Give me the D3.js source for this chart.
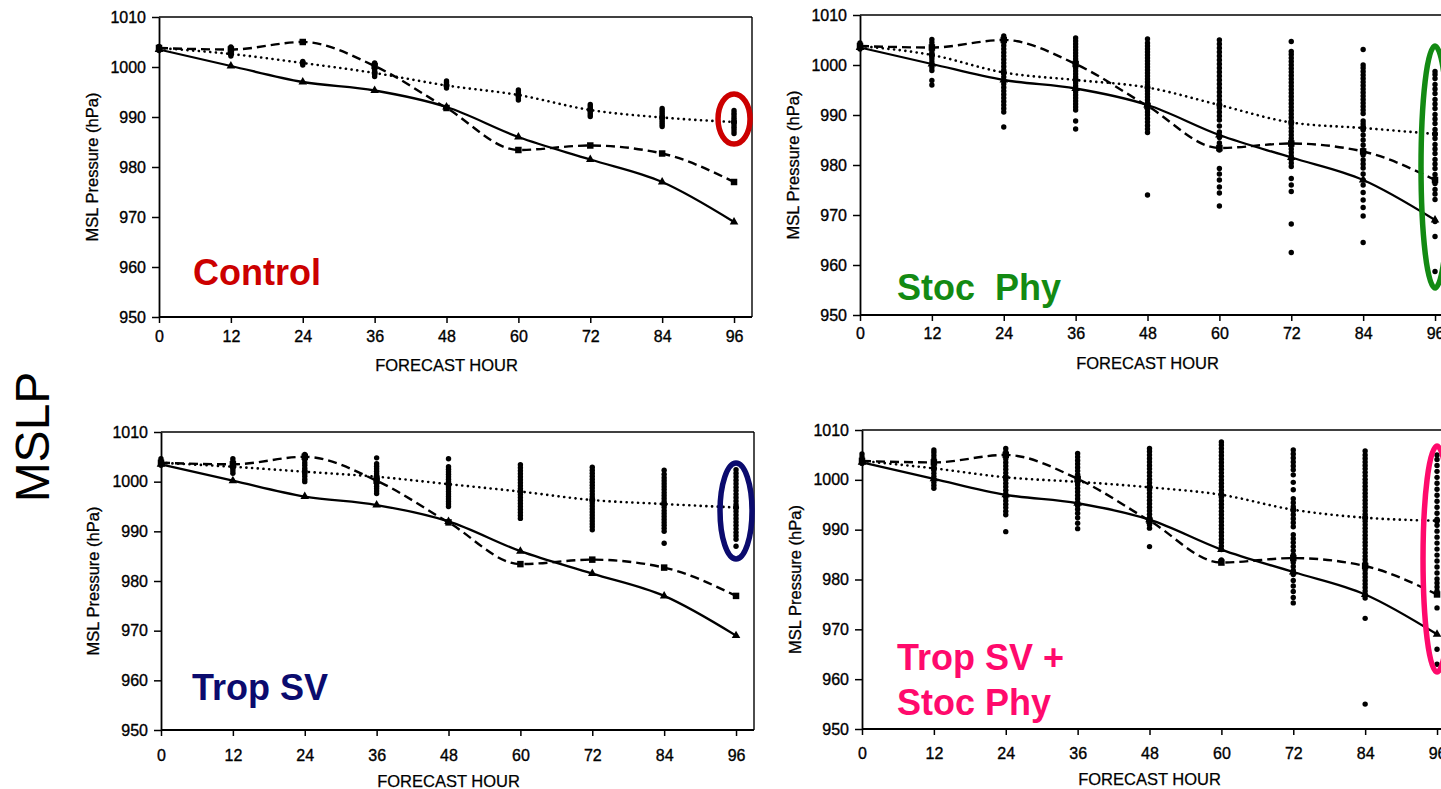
<!DOCTYPE html>
<html><head><meta charset="utf-8">
<script src="https://cdn.jsdelivr.net/npm/d3@7"></script>
<style>
body{margin:0;background:#fff;overflow:hidden}
text{font-family:"Liberation Sans",Arial,Helvetica,sans-serif}
</style>
</head><body>
<svg id="chart" width="1441" height="789"></svg>
<script>
// ---------------- data ----------------
const hours = [0, 12, 24, 36, 48, 60, 72, 84, 96];
const xTickLabels = [0, 12, 24, 36, 48, 60, 72, 84, 96];
const yTickLabels = [950, 960, 970, 980, 990, 1000, 1010];

// solid line with triangles
const observedTrack = [1003.5, 1000.2, 997.0, 995.3, 992.0, 986.0, 981.5, 977.0, 969.0];
// dashed line with squares
const controlForecast = [1003.8, 1003.5, 1005.0, 1000.2, 991.8, 983.4, 984.3, 982.7, 977.0];
// dotted ensemble means
const meanControl  = [1003.8, 1002.6, 1000.8, 998.8, 996.3, 994.4, 991.4, 989.9, 989.0];
const meanStoc     = [1003.8, 1002.0, 998.5, 997.0, 995.5, 992.0, 988.5, 987.4, 986.2];
const meanTrop     = [1003.8, 1003.0, 1002.0, 1001.0, 999.5, 998.0, 996.3, 995.5, 994.8];
const meanTropStoc = [1003.8, 1002.3, 1000.5, 999.6, 998.5, 997.0, 994.0, 992.4, 991.8];

// ensemble members, one list per forecast hour
const membersControl = [
  [1003.3, 1003.7, 1004.1],
  [1002.2, 1002.6, 1003.0, 1003.3, 1003.7, 1004.0],
  [1000.4, 1000.8, 1001.1],
  [998.1, 998.5, 998.9, 999.3, 999.7, 1000.1, 1000.5, 1000.8],
  [995.8, 996.2, 996.5, 996.9, 997.2],
  [993.4, 993.8, 994.2, 994.6, 995.0, 995.4],
  [990.1, 990.5, 990.9, 991.3, 991.7, 992.1, 992.5],
  [988.1, 988.5, 988.9, 989.3, 989.7, 990.1, 990.5, 990.9, 991.3, 991.7],
  [986.7, 987.2, 987.7, 988.1, 988.6, 989.0, 989.5, 989.9, 990.4, 990.8, 991.3]
];
const membersStoc = [
  [1003.2, 1003.6, 1004.0, 1004.4],
  [996.0, 996.9, 998.9, 999.5, 1000.1, 1000.6, 1001.2, 1001.7, 1002.3, 1002.8, 1003.4, 1003.9, 1004.5, 1005.1],
  [987.6, 990.6, 991.3, 992.0, 992.7, 993.4, 994.1, 994.8, 995.5, 996.2, 996.9, 997.6, 998.3, 999.0, 999.7, 1000.4, 1001.1, 1001.8, 1002.5, 1003.2, 1003.9, 1004.6, 1005.3, 1005.8],
  [987.2, 988.8, 991.0, 991.6, 992.2, 992.8, 993.4, 994.0, 994.6, 995.2, 995.8, 996.4, 997.0, 997.6, 998.2, 998.8, 999.4, 1000.0, 1000.6, 1001.2, 1001.8, 1002.4, 1003.0, 1003.6, 1004.2, 1004.8, 1005.4],
  [974.0, 986.5, 987.2, 987.9, 988.6, 989.3, 990.0, 990.6, 991.2, 991.8, 992.4, 993.0, 993.6, 994.2, 994.8, 995.4, 996.0, 996.6, 997.2, 997.8, 998.4, 999.0, 999.6, 1000.2, 1000.8, 1001.4, 1002.0, 1002.6, 1003.2, 1003.8, 1004.4, 1005.2],
  [971.8, 974.4, 975.6, 977.0, 978.2, 979.3, 983.0, 983.6, 984.4, 985.5, 986.6, 987.8, 989.0, 989.8, 990.6, 991.4, 992.2, 993.0, 993.8, 994.6, 995.4, 996.2, 997.0, 997.8, 998.6, 999.4, 1000.2, 1001.0, 1001.8, 1002.6, 1003.4, 1004.2, 1005.0],
  [962.5, 968.2, 974.7, 976.0, 977.3, 979.7, 980.4, 981.1, 981.8, 982.5, 983.2, 983.9, 984.6, 985.3, 986.0, 986.7, 987.4, 988.1, 988.8, 989.5, 990.2, 990.9, 991.6, 992.3, 993.0, 993.7, 994.4, 995.1, 995.8, 996.5, 997.2, 997.9, 998.6, 999.3, 1000.0, 1000.7, 1001.4, 1002.1, 1002.7, 1004.7],
  [964.5, 969.8, 971.5, 973.0, 974.5, 976.0, 977.0, 978.2, 979.4, 980.2, 981.0, 982.0, 983.0, 984.0, 985.0, 986.0, 987.0, 987.6, 988.2, 988.8, 990.3, 991.0, 991.7, 992.4, 993.1, 993.8, 994.5, 995.2, 995.9, 996.6, 997.3, 998.0, 998.7, 999.4, 1000.0, 1003.1],
  [958.7, 965.7, 968.7, 973.1, 974.2, 975.1, 976.3, 977.2, 978.1, 979.3, 980.2, 981.1, 982.3, 983.2, 984.1, 985.3, 986.2, 987.1, 988.3, 989.2, 990.1, 991.3, 992.2, 993.1, 994.3, 995.2, 996.1, 997.3, 998.1, 998.7]
];
const membersTrop = [
  [1003.3, 1003.7, 1004.1, 1004.6],
  [1001.7, 1002.2, 1002.7, 1003.2, 1003.6, 1004.1, 1004.6],
  [1000.0, 1000.5, 1001.1, 1001.6, 1002.2, 1002.7, 1003.3, 1003.8, 1004.4, 1004.9, 1005.5],
  [997.6, 998.1, 998.6, 999.1, 999.6, 1000.1, 1000.6, 1001.1, 1001.6, 1002.1, 1002.6, 1003.1, 1003.6, 1004.8],
  [995.0, 995.5, 996.0, 996.5, 997.0, 997.5, 998.0, 998.5, 999.0, 999.5, 1000.0, 1000.5, 1001.0, 1001.5, 1002.0, 1002.5, 1003.0, 1004.6],
  [992.6, 993.2, 993.8, 994.4, 995.0, 995.6, 996.2, 996.8, 997.4, 998.0, 998.6, 999.2, 999.8, 1000.4, 1001.0, 1001.6, 1002.2, 1002.8, 1003.4],
  [990.3, 990.9, 991.5, 992.1, 992.7, 993.3, 993.9, 994.5, 995.1, 995.7, 996.3, 996.9, 997.5, 998.1, 998.7, 999.3, 999.9, 1000.5, 1001.1, 1001.7, 1002.3, 1002.9],
  [987.6, 990.0, 990.6, 991.2, 991.8, 992.4, 993.0, 993.6, 994.2, 994.8, 995.4, 996.0, 996.6, 997.2, 997.8, 998.4, 999.0, 999.6, 1000.2, 1000.8, 1001.5, 1002.3],
  [987.0, 988.4, 989.1, 989.8, 990.5, 991.2, 991.9, 992.6, 993.3, 994.0, 994.7, 995.4, 996.1, 996.8, 997.5, 998.2, 998.9, 999.6, 1000.3, 1001.0, 1001.7, 1002.4]
];
const membersTropStoc = [
  [1003.3, 1003.7, 1004.1, 1004.6, 1005.2],
  [998.3, 998.9, 999.5, 1000.1, 1000.7, 1001.3, 1001.9, 1002.5, 1003.1, 1003.7, 1004.3, 1004.9, 1005.5, 1006.0],
  [989.6, 993.0, 993.7, 994.4, 995.1, 995.8, 996.5, 997.2, 997.9, 998.6, 999.3, 1000.0, 1000.7, 1001.4, 1002.1, 1002.8, 1003.5, 1004.2, 1004.9, 1005.6, 1006.3],
  [990.2, 991.3, 992.4, 993.3, 994.1, 994.8, 995.5, 996.2, 996.9, 997.6, 998.3, 999.0, 999.7, 1000.4, 1001.1, 1001.8, 1002.5, 1003.2, 1003.9, 1004.6, 1005.3],
  [986.6, 990.3, 991.0, 991.7, 992.4, 993.1, 993.8, 994.5, 995.2, 995.9, 996.6, 997.3, 998.0, 998.7, 999.4, 1000.1, 1000.8, 1001.5, 1002.2, 1002.9, 1003.6, 1004.3, 1005.0, 1005.7, 1006.3],
  [983.9, 986.0, 986.7, 987.4, 988.1, 988.8, 989.5, 990.2, 990.9, 991.6, 992.3, 993.0, 993.7, 994.4, 995.1, 995.8, 996.5, 997.2, 997.9, 998.6, 999.3, 1000.0, 1000.7, 1001.4, 1002.1, 1002.8, 1003.5, 1004.2, 1004.9, 1005.6, 1006.3, 1007.0, 1007.6],
  [975.3, 976.4, 977.6, 978.7, 979.8, 981.0, 981.8, 982.6, 983.4, 984.2, 985.0, 985.8, 986.6, 987.4, 988.2, 989.0, 990.6, 991.4, 992.2, 993.0, 993.8, 994.6, 995.4, 996.2, 998.0, 999.5, 1001.0, 1002.0, 1002.8, 1003.6, 1004.4, 1005.2, 1006.0],
  [955.0, 972.2, 976.3, 977.0, 977.7, 978.4, 979.1, 979.8, 980.5, 981.2, 981.9, 982.6, 983.3, 984.0, 984.7, 985.4, 986.1, 986.8, 987.5, 988.2, 988.9, 989.6, 990.3, 991.0, 991.7, 992.4, 993.1, 993.8, 994.5, 995.2, 995.9, 996.6, 997.3, 998.0, 998.7, 999.4, 1000.1, 1000.8, 1001.5, 1002.2, 1002.9, 1003.6, 1004.3, 1005.0, 1005.8],
  [963.0, 966.0, 974.3, 977.7, 978.5, 979.3, 980.1, 981.3, 982.5, 983.7, 984.9, 986.1, 987.3, 988.5, 989.7, 990.9, 992.1, 993.3, 994.5, 995.7, 996.9, 998.1, 999.3, 1000.5, 1001.7, 1002.9, 1004.1, 1005.0]
];

const panelLabels = [["Control"], ["Stoc  Phy"], ["Trop SV"], ["Trop SV +", "Stoc Phy"]];
const panelColors = ["#cc0000", "#138a13", "#0b0b6e", "#ff0a6c"];
// ring around the 96-h spread: [hour, centre pressure]
const ringCentres = [[96, 989.6], [96, 979.6], [96, 994.1], [96, 984.1]];

// ---------------- drawing ----------------
const svg = d3.select("#chart");

const layouts = [
  { x0: 159, x1: 752, y0: 17,  y1: 317, tickY: 331, titleY: 371, yTitleX: 92,  label: [193, 285], ring: [16, 25], lh: 45 },
  { x0: 860, x1: 1453, y0: 15, y1: 315, tickY: 328, titleY: 369, yTitleX: 793, label: [897, 300], ring: [14, 121], lh: 45 },
  { x0: 161, x1: 754, y0: 432, y1: 730, tickY: 750, titleY: 787, yTitleX: 93, label: [192, 700], ring: [16, 48], lh: 45 },
  { x0: 862, x1: 1455, y0: 430, y1: 729, tickY: 748, titleY: 785, yTitleX: 795, label: [897, 670], ring: [14, 113], lh: 45 }
];
const means = [meanControl, meanStoc, meanTrop, meanTropStoc];
const members = [membersControl, membersStoc, membersTrop, membersTropStoc];

function drawPanel(i) {
  const L = layouts[i];
  const x = d3.scaleLinear().domain([0, 99]).range([L.x0, L.x1]);
  const y = d3.scaleLinear().domain([950, 1010]).range([L.y1, L.y0]);
  const g = svg.append("g");

  // frame
  g.append("line").attr("x1", L.x0).attr("x2", L.x1).attr("y1", L.y0).attr("y2", L.y0)
    .attr("stroke", "#000").attr("stroke-width", 1.5);
  g.append("line").attr("x1", L.x1).attr("x2", L.x1).attr("y1", L.y0).attr("y2", L.y1)
    .attr("stroke", "#000").attr("stroke-width", 1.4);

  // axes
  const ya = d3.axisLeft(y).tickValues(yTickLabels).tickSize(7).tickSizeOuter(0).tickPadding(6).tickFormat(d3.format("d"));
  const yg = g.append("g").attr("transform", `translate(${L.x0},0)`).call(ya);
  yg.select(".domain").attr("stroke-width", 1.8);
  yg.selectAll(".tick line").attr("stroke-width", 1.5);
  yg.selectAll("text").attr("font-size", 16).attr("font-family", "Liberation Sans, Arial, sans-serif")
    .attr("fill", "#000").attr("stroke", "#000").attr("stroke-width", 0.35);

  const xa = d3.axisBottom(x).tickValues(xTickLabels).tickSize(6).tickSizeOuter(0).tickPadding(L.tickY - L.y1 - 6);
  const xg = g.append("g").attr("transform", `translate(0,${L.y1})`).call(xa);
  xg.select(".domain").attr("stroke-width", 1.8).attr("d", `M${L.x0},0H${L.x1}`);
  xg.selectAll(".tick line").attr("stroke-width", 1.5);
  xg.selectAll("text").attr("font-size", 16).attr("font-family", "Liberation Sans, Arial, sans-serif")
    .attr("fill", "#000").attr("stroke", "#000").attr("stroke-width", 0.35);

  g.append("text").attr("x", x(48)).attr("y", L.titleY).attr("text-anchor", "middle")
    .attr("font-size", 16.5).attr("stroke", "#000").attr("stroke-width", 0.25).text("FORECAST HOUR");
  g.append("text").attr("transform", `translate(${L.yTitleX},${(L.y0 + L.y1) / 2}) rotate(-90)`)
    .attr("text-anchor", "middle").attr("dy", "0.35em").attr("font-size", 16.5)
    .attr("stroke", "#000").attr("stroke-width", 0.3).text("MSL Pressure (hPa)");

  const line = d3.line().x((d, k) => x(hours[k])).y(d => y(d)).curve(d3.curveMonotoneX);

  // lines
  g.append("path").datum(observedTrack).attr("d", line).attr("fill", "none")
    .attr("stroke", "#000").attr("stroke-width", 2.3);
  g.append("path").datum(controlForecast).attr("d", line).attr("fill", "none")
    .attr("stroke", "#000").attr("stroke-width", 2.4).attr("stroke-dasharray", "9,5");
  g.append("path").datum(means[i]).attr("d", line).attr("fill", "none")
    .attr("stroke", "#000").attr("stroke-width", 2.6).attr("stroke-dasharray", "0.1,5.6").attr("stroke-linecap", "round");

  // markers
  const tri = d3.symbol().type(d3.symbolTriangle).size(32);
  g.selectAll(".tri").data(observedTrack).join("path").attr("d", tri)
    .attr("transform", (d, k) => `translate(${x(hours[k])},${y(d)})`).attr("fill", "#000");
  const sq = d3.symbol().type(d3.symbolSquare).size(42);
  g.selectAll(".sq").data(controlForecast).join("path").attr("d", sq)
    .attr("transform", (d, k) => `translate(${x(hours[k])},${y(d)})`).attr("fill", "#000");
  g.selectAll(".mc").data(means[i]).join("circle")
    .attr("cx", (d, k) => x(hours[k])).attr("cy", d => y(d)).attr("r", 3).attr("fill", "#000");

  // ensemble members
  const pts = [];
  members[i].forEach((vals, k) => vals.forEach(v => pts.push([hours[k], v])));
  g.selectAll(".m").data(pts).join("circle")
    .attr("cx", d => x(d[0])).attr("cy", d => y(d[1])).attr("r", 2.7).attr("fill", "#000");

  // label
  const lab = g.append("text").attr("x", L.label[0]).attr("y", L.label[1])
    .attr("font-size", 36).attr("font-weight", "bold").attr("fill", panelColors[i]).style("white-space", "pre");
  panelLabels[i].forEach((t, j) => {
    lab.append("tspan").attr("x", L.label[0]).attr("dy", j === 0 ? 0 : L.lh).text(t);
  });

  // ring
  g.append("ellipse").attr("cx", x(ringCentres[i][0])).attr("cy", y(ringCentres[i][1]))
    .attr("rx", L.ring[0]).attr("ry", L.ring[1]).attr("fill", "none")
    .attr("stroke", panelColors[i]).attr("stroke-width", 5.5);
}
for (let i = 0; i < 4; i++) drawPanel(i);

svg.append("text").attr("transform", "translate(32,437) rotate(-90)").attr("text-anchor", "middle")
  .attr("dy", "0.35em").attr("font-size", 48).attr("fill", "#000").text("MSLP");
</script>
</body></html>
